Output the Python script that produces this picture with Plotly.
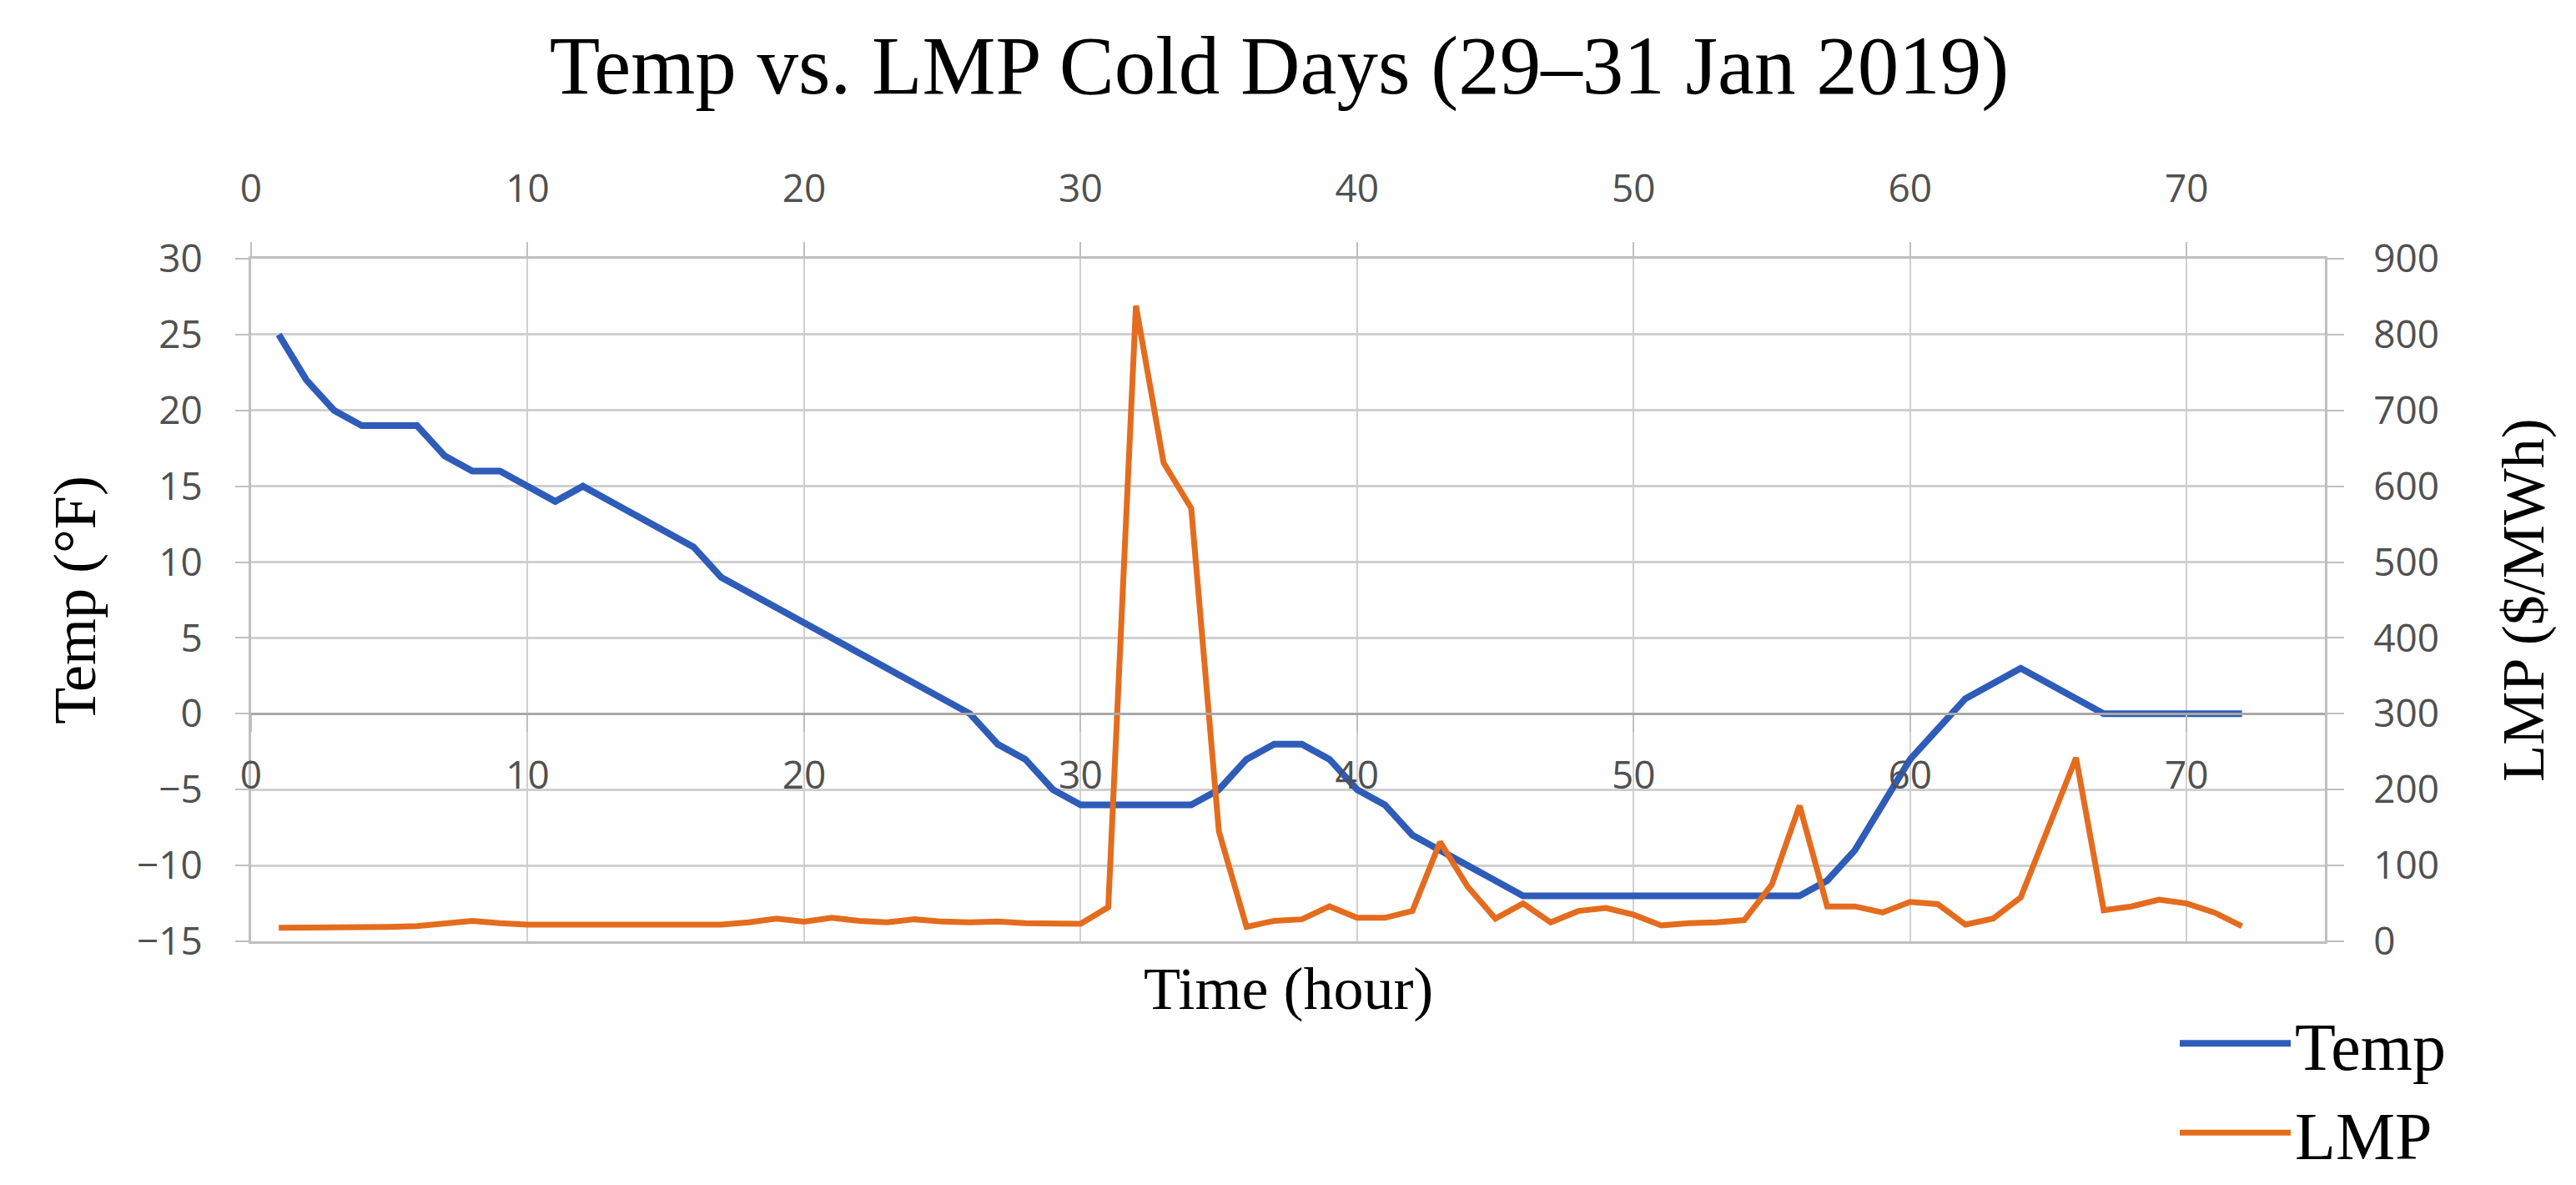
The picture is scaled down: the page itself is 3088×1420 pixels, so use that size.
import plotly.graph_objects as go

hours = list(range(1, 73))
temp_f = [25, 22, 20, 19, 19, 19, 17, 16, 16, 15, 14, 15, 14, 13, 12, 11, 9, 8, 7, 6,
          5, 4, 3, 2, 1, 0, -2, -3, -5, -6, -6, -6, -6, -6, -5, -3, -2, -2, -3, -5,
          -6, -8, -9, -10, -11, -12, -12, -12, -12, -12, -12, -12, -12, -12, -12, -12,
          -11, -9, -6, -3, -1, 1, 2, 3, 2, 1, 0, 0, 0, 0, 0, 0]
lmp = [18, 18, 19, 18, 19, 20, 23, 27, 24, 22, 22, 22, 22, 22, 22, 22, 22, 25, 30, 26,
       31, 27, 25, 29, 26, 25, 26, 24, 23, 23, 45, 838, 631, 571, 145, 19, 27, 29, 46, 31,
       31, 40, 131, 72, 30, 50, 25, 40, 44, 35, 21, 24, 25, 28, 75, 179, 46, 46, 38, 52,
       49, 22, 30, 58, 150, 242, 41, 46, 55, 50, 38, 20]

x_ticks = [0, 10, 20, 30, 40, 50, 60, 70]
temp_ticks = [-15, -10, -5, 0, 5, 10, 15, 20, 25, 30]
lmp_ticks = [0, 100, 200, 300, 400, 500, 600, 700, 800, 900]

BLUE = "#2E5CB8"
ORANGE = "#E46C1E"
TICK_COLOR = "#505050"
AXIS_GRAY = "#BFBFBF"
GRID = "#D0D0D0"
SERIF = "Liberation Serif"
SANS = "Open Sans"

fig = go.Figure()
fig.add_trace(go.Scatter(x=hours, y=temp_f, name="Temp", mode="lines",
                         line=dict(color=BLUE, width=8), xaxis="x", yaxis="y"))
fig.add_trace(go.Scatter(x=hours, y=lmp, name="LMP", mode="lines",
                         line=dict(color=ORANGE, width=7), xaxis="x2", yaxis="y2"))

tickfont = dict(family=SANS, size=46, color=TICK_COLOR)

fig.update_layout(
    width=3088, height=1420,
    margin=dict(l=293, r=309, t=302, b=293),
    paper_bgcolor="white", plot_bgcolor="white",
    title=dict(text="Temp vs. LMP Cold Days (29\u201331 Jan 2019)",
               font=dict(family=SERIF, size=99, color="black"),
               x=0.494, xref="container", xanchor="center",
               y=0.951, yanchor="middle"),
    xaxis=dict(range=[0, 75], side="top", anchor="y", tickvals=x_ticks,
               ticks="outside", ticklen=17, tickwidth=2, tickcolor=AXIS_GRAY,
               tickfont=tickfont, ticklabelstandoff=30,
               showgrid=True, gridcolor=GRID, gridwidth=2,
               showline=True, linecolor=AXIS_GRAY, linewidth=3, mirror=True,
               zeroline=False),
    xaxis2=dict(range=[0, 75], overlaying="x", anchor="free", position=1/3,
                side="bottom", tickvals=x_ticks,
                ticks="outside", ticklen=20, tickwidth=2, tickcolor=AXIS_GRAY,
                tickfont=tickfont, ticklabelstandoff=12,
                showgrid=False, showline=True, linecolor="#A8A8A8", linewidth=3,
                zeroline=False),
    yaxis=dict(range=[-15, 30], tickvals=temp_ticks, side="left", anchor="x",
               ticks="outside", ticklen=16, tickwidth=2, tickcolor=AXIS_GRAY,
               tickfont=tickfont, ticklabelstandoff=30,
               showgrid=True, gridcolor=GRID, gridwidth=3,
               showline=True, linecolor=AXIS_GRAY, linewidth=3, zeroline=False,
               title=dict(text="Temp (\u00b0F)", font=dict(family=SERIF, size=72, color="black"),
                          standoff=26)),
    yaxis2=dict(range=[0, 900], tickvals=lmp_ticks, side="right", overlaying="y",
                anchor="x", ticks="outside", ticklen=20, tickwidth=2, tickcolor=AXIS_GRAY,
                tickfont=tickfont, ticklabelstandoff=26,
                showgrid=False, showline=True, linecolor=AXIS_GRAY, linewidth=3,
                zeroline=False,
                title=dict(text="LMP ($/MWh)", font=dict(family=SERIF, size=72, color="black"),
                           standoff=76)),
    legend=dict(x=0.928, xanchor="left", y=-0.078, yanchor="top",
                font=dict(family=SERIF, size=80, color="black"),
                bgcolor="rgba(0,0,0,0)", itemwidth=133, tracegroupgap=0),
    showlegend=True,
    annotations=[dict(text="Time (hour)", xref="paper", yref="paper", x=0.5, y=-0.07,
                      xanchor="center", yanchor="middle", showarrow=False,
                      font=dict(family=SERIF, size=72, color="black"))],
)

fig.write_html("out.html")
